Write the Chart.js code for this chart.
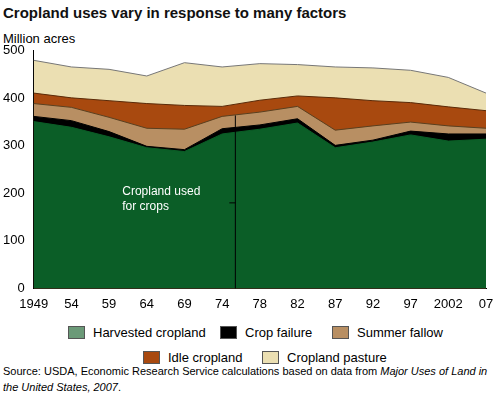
<!DOCTYPE html><html><head><meta charset="utf-8">
<script src="https://cdn.jsdelivr.net/npm/chart.js@4"></script>
<style>
body{margin:0;width:500px;height:409px;font-family:Arial,"Liberation Sans",sans-serif;position:relative;background:#fff}
#t{position:absolute;left:3px;top:4px;font-weight:bold;font-size:15px;color:#111}
#u{position:absolute;left:3px;top:31px;font-size:13px}
#cw{position:absolute;left:0;top:40px;width:500px;height:275px}
.lg{position:absolute;font-size:13px;display:flex;align-items:center}
.lg span{display:inline-block;width:17px;height:13px;margin-right:8px;border:1px solid #555;box-sizing:border-box}
#s{position:absolute;left:3px;top:363px;font-size:11px;line-height:16px;width:495px}
</style></head><body>
<div id="t">Cropland uses vary in response to many factors</div>
<div id="u">Million acres</div>
<div id="cw"><canvas id="c"></canvas></div>
<div class="lg" style="left:68px;top:325px"><span style="background:#6b9a78"></span>Harvested cropland</div>
<div class="lg" style="left:220px;top:325px"><span style="background:#000"></span>Crop failure</div>
<div class="lg" style="left:332px;top:325px"><span style="background:#b88f63"></span>Summer fallow</div>
<div class="lg" style="left:143px;top:350px"><span style="background:#a8490f"></span>Idle cropland</div>
<div class="lg" style="left:262px;top:350px"><span style="background:#ebdfb2"></span>Cropland pasture</div>
<div id="s">Source: USDA, Economic Research Service calculations based on data from <i>Major Uses of Land in the United States, 2007</i>.</div>
<script>
const years=["1949","54","59","64","69","74","78","82","87","92","97","2002","07"];
const harvested=[351,339,319,296,288,325,335,348,296,308,323,310,314];
const failure=[11,14,11,3,4,11,9,9,5,4,8,15,11];
const fallow=[27,28,30,38,43,26,27,26,32,30,19,17,12];
const idle=[22,20,35,52,50,21,25,22,68,53,41,40,37];
const pasture=[69,65,66,58,90,83,77,66,65,69,68,62,37];
const yTicks=[0,100,200,300,400,500];
function ds(label,data,bg,border){return{label,data,backgroundColor:bg,borderColor:border,borderWidth:1,fill:true,pointRadius:0,tension:0};}
const anno={id:'anno',afterDatasetsDraw(ch){const{ctx,scales:{x,y}}=ch;const px=x.getPixelForValue(5.35);
ctx.save();ctx.strokeStyle='#000';ctx.lineWidth=1;ctx.beginPath();ctx.moveTo(px,y.getPixelForValue(364));ctx.lineTo(px,y.getPixelForValue(0));ctx.stroke();
const py=y.getPixelForValue(180);ctx.beginPath();ctx.moveTo(px-6,py);ctx.lineTo(px,py);ctx.stroke();
ctx.fillStyle='#fff';ctx.font='12px Arial';ctx.fillText('Cropland used',x.getPixelForValue(2.35),py-8);ctx.fillText('for crops',x.getPixelForValue(2.35),py+7);ctx.restore();}};
new Chart(document.getElementById('c'),{type:'line',data:{labels:years,datasets:[
ds('Harvested cropland',harvested,'#0b5e27','#0b5e27'),
ds('Crop failure',failure,'#000','#000'),
ds('Summer fallow',fallow,'#b88f63','#5a4020'),
ds('Idle cropland',idle,'#a8490f','#5a2a08'),
ds('Cropland pasture',pasture,'#ebdfb2','#777')]},
options:{responsive:true,maintainAspectRatio:false,animation:false,layout:{padding:{left:0,right:14,top:6}},
plugins:{legend:{display:false},tooltip:{enabled:false}},
scales:{x:{offset:false,grid:{display:false,drawTicks:true,tickLength:5},border:{color:'#000'},ticks:{color:'#000',font:{size:13},maxRotation:0,autoSkip:false}},
y:{stacked:true,min:0,max:500,afterBuildTicks(a){a.ticks=yTicks.map(v=>({value:v}));},grid:{display:false,drawTicks:true,tickLength:6,color:'#aaa'},border:{color:'#000'},ticks:{color:'#000',font:{size:13}}}}},
plugins:[anno]});
</script></body></html>
